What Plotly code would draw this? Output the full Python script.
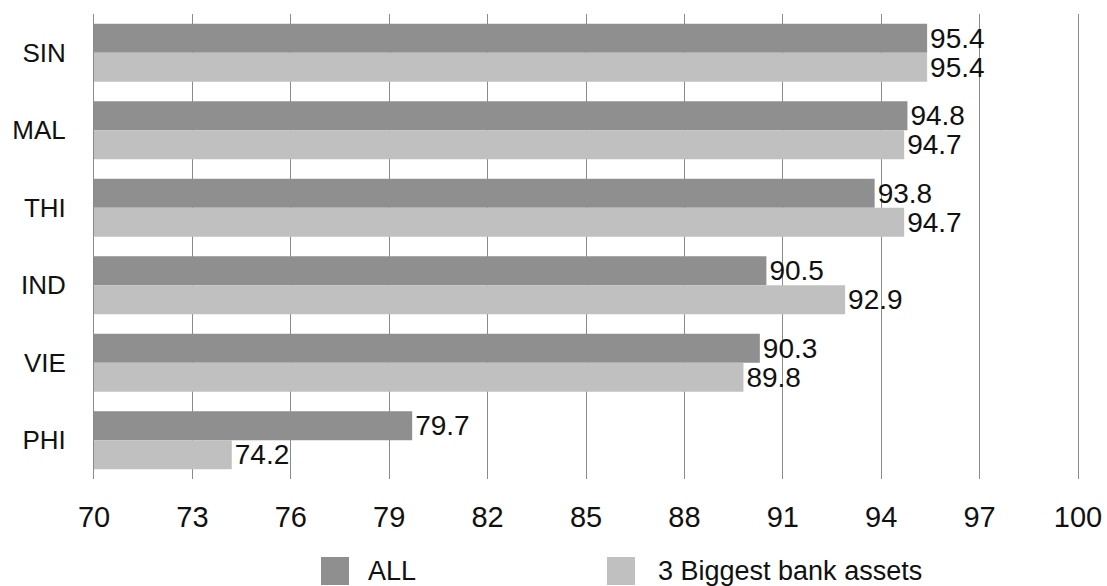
import plotly.graph_objects as go

categories = ["SIN", "MAL", "THI", "IND", "VIE", "PHI"]
series_names = ["ALL", "3 Biggest bank assets"]
all_values = [95.4, 94.8, 93.8, 90.5, 90.3, 79.7]
big3_values = [95.4, 94.7, 94.7, 92.9, 89.8, 74.2]
x_ticks = [70, 73, 76, 79, 82, 85, 88, 91, 94, 97, 100]

colors = ["#8f8f8f", "#c0c0c0"]
FONT = "Liberation Sans, Arial, Helvetica, sans-serif"

W, H = 1107, 586
ML, MR, MT, MB = 94, 29, 14, 107
PW, PH = W - ML - MR, H - MT - MB

fig = go.Figure()
for name, vals, col in zip(series_names, [all_values, big3_values], colors):
    fig.add_trace(go.Bar(
        y=categories, x=vals, name=name, orientation="h",
        marker=dict(color=col, line=dict(width=0)),
        text=[f"{v:.1f}" for v in vals],
        textposition="outside", constraintext="none", cliponaxis=False,
        textfont=dict(size=28, color="#111111", family=FONT),
        showlegend=False,
    ))

def px2paper_x(px):
    return (px - ML) / PW

def px2paper_y(py):
    return (H - MB - py) / PH

shapes = []
annotations = []
legend_sq_x = [321, 607]
legend_txt_x = [366, 656]
for i, name in enumerate(series_names):
    shapes.append(dict(type="rect", xref="paper", yref="paper",
                       x0=px2paper_x(legend_sq_x[i]), x1=px2paper_x(legend_sq_x[i] + 28),
                       y0=px2paper_y(585), y1=px2paper_y(557),
                       fillcolor=colors[i], line=dict(width=0)))
    annotations.append(dict(xref="paper", yref="paper",
                            x=px2paper_x(legend_txt_x[i]), y=px2paper_y(571),
                            xanchor="left", yanchor="middle", showarrow=False,
                            text=name, font=dict(size=27, color="#111111", family=FONT)))

fig.update_layout(
    width=W, height=H,
    margin=dict(l=ML, r=MR, t=MT, b=MB, autoexpand=False),
    paper_bgcolor="white", plot_bgcolor="white",
    barmode="group", bargap=0.25, bargroupgap=0,
    font=dict(family=FONT, color="#111111"),
    shapes=shapes, annotations=annotations,
    xaxis=dict(range=[70, 100], tickvals=x_ticks, ticktext=[str(t) for t in x_ticks],
               automargin=False,
               showgrid=True, gridcolor="#8a8a8a", gridwidth=1, zeroline=False,
               showline=False, ticks="", tickfont=dict(size=29, family=FONT, color="#111111"),
               ticklabelstandoff=18),
    yaxis=dict(autorange="reversed", showgrid=False, zeroline=False, automargin=False,
               showline=True, mirror=True, linecolor="#8a8a8a", linewidth=1, ticks="",
               tickfont=dict(size=26, family=FONT, color="#111111"),
               ticklabelstandoff=22),
)

fig.write_html("out.html")
